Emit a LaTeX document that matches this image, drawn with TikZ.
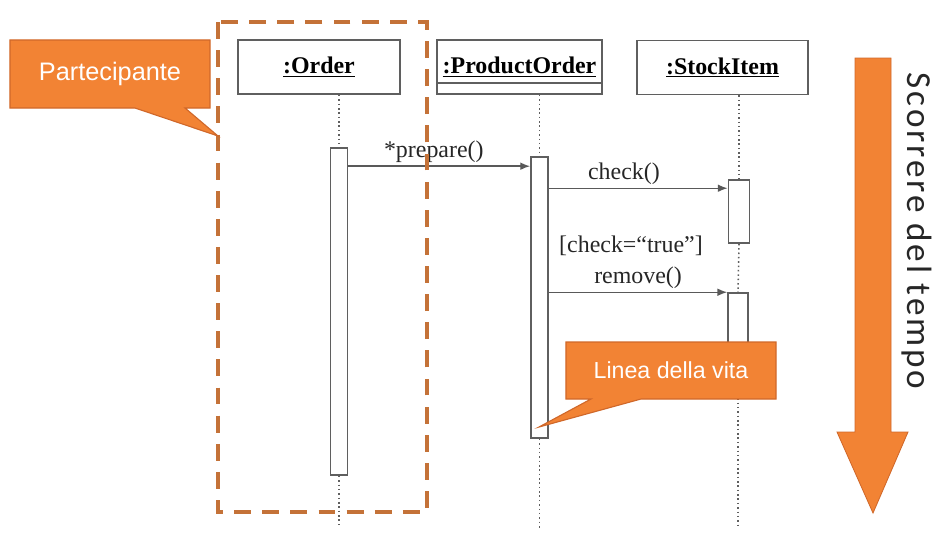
\documentclass[tikz,border=0pt]{standalone}
\usepackage{fontspec}
\setmainfont{Liberation Serif}
\newfontfamily\notefont{Liberation Sans}
\newfontfamily\timefont[LetterSpace=8]{Carlito}
\usetikzlibrary{shapes,shapes.callouts,arrows.meta,positioning,calc}

\definecolor{noteorange}{RGB}{242,131,52}
\definecolor{noteedge}{RGB}{208,104,42}
\definecolor{partedge}{RGB}{196,114,56}
\definecolor{umlgray}{RGB}{95,95,95}

\begin{document}
\begin{tikzpicture}[x=0.025cm, y=-0.025cm,
    head/.style={rectangle, draw=umlgray, line width=1.3pt, fill=white, minimum height=1.35cm, inner sep=0pt, font=\fontsize{17}{20}\selectfont\bfseries},
    act/.style={rectangle, draw=umlgray, line width=1.1pt, fill=white, minimum width=0.43cm, inner sep=0pt},
    life/.style={draw=umlgray, line width=1.1pt, dotted},
    msg/.style={draw=black!65, line width=1pt, -{Latex[length=7pt,width=5.5pt]}},
    lbl/.style={text=black!85, font=\fontsize{17}{20}\selectfont, inner sep=2pt},
    note/.style={rectangle callout, fill=noteorange, draw=noteedge, line width=0.8pt, text=white, callout pointer width=1.25cm},
    partbox/.style={draw=partedge, line width=2.8pt, dash pattern=on 12pt off 8pt}]

    \useasboundingbox (0,0) rectangle (946,541);

    % Partecipanti
    \node[head, minimum width=4.05cm] (order) at (319,67) {\underline{:Order}};
    \node[head, minimum width=4.125cm] (prod) at (519.5,67) {\underline{:ProductOrder}};
    \node[head, minimum width=4.275cm] (stock) at (722.5,67.5) {\underline{:StockItem}};
    \coordinate (cmp) at (0,83);
    \draw[umlgray, line width=1.3pt] (prod.west |- cmp) -- (prod.east |- cmp);

    % Attivazioni
    \node[act, minimum height=8.175cm] (orderA) at (339,311.5) {};
    \node[act, minimum height=7.025cm] (prodA) at (539.5,297.5) {};
    \node[act, minimum height=1.575cm, minimum width=0.53cm] (stockA) at (739,211.5) {};
    \node[act, minimum height=2.175cm, minimum width=0.5cm] (stockB) at (738,336.5) {};

    % Linee della vita
    \coordinate (bottom) at (0,528);
    \draw[life] (orderA.center |- order.south) -- (orderA.north);
    \draw[life] (orderA.south) -- (orderA.center |- bottom);
    \draw[life] (prodA.center |- prod.south) -- (prodA.north);
    \draw[life] (prodA.south) -- (prodA.center |- bottom);
    \draw[life] (stockA.center |- stock.south) -- (stockA.north);
    \draw[life] (stockA.south) -- (stockB.north);
    \draw[life] (stockB.south) -- (stockB.center |- bottom);

    % Messaggi
    \coordinate (m1) at ($(prodA.north)+(0,10)$);
    \coordinate (m2) at ($(stockA.north)+(0,9)$);
    \draw[msg] (orderA.east |- m1) -- (prodA.west |- m1) node[lbl, pos=0.47, above] {*prepare()};
    \draw[msg] (prodA.east |- m2) -- (stockA.west |- m2) node[lbl, pos=0.42, above] {check()};
    \node[lbl] (guard) at (631,246) {[check=“true”]};
    \draw[msg] (prodA.east |- stockB.north) -- (stockB.north west) node[lbl, midway, above] {remove()};

    % Riquadro del partecipante
    \draw[partbox] (218,22) rectangle (427,512);

    % Note
    \coordinate (ptip) at (218,136);
    \coordinate (ltip) at (539,427);
    \node[note, minimum width=5cm, minimum height=1.7cm, font=\notefont\fontsize{18}{20}\selectfont, callout absolute pointer={(ptip)}] (partnote) at (110,74) {Partecipante};
    \node[note, minimum width=5.25cm, minimum height=1.425cm, font=\notefont\fontsize{16.5}{20}\selectfont, callout absolute pointer={(ltip)}] (lifenote) at (671,370.5) {Linea della vita};

    % Scorrere del tempo
    \filldraw[fill=noteorange, draw=noteedge, line width=0.6pt] (855,58) -- (891,58) -- (891,432) -- (908,432) -- (873,513) -- (837,432) -- (855,432) -- cycle;
    \node[rotate=-90, text=black!85, font=\timefont\fontsize{25}{28}\selectfont] (time) at (917,231) {Scorrere del tempo};
\end{tikzpicture}
\end{document}
